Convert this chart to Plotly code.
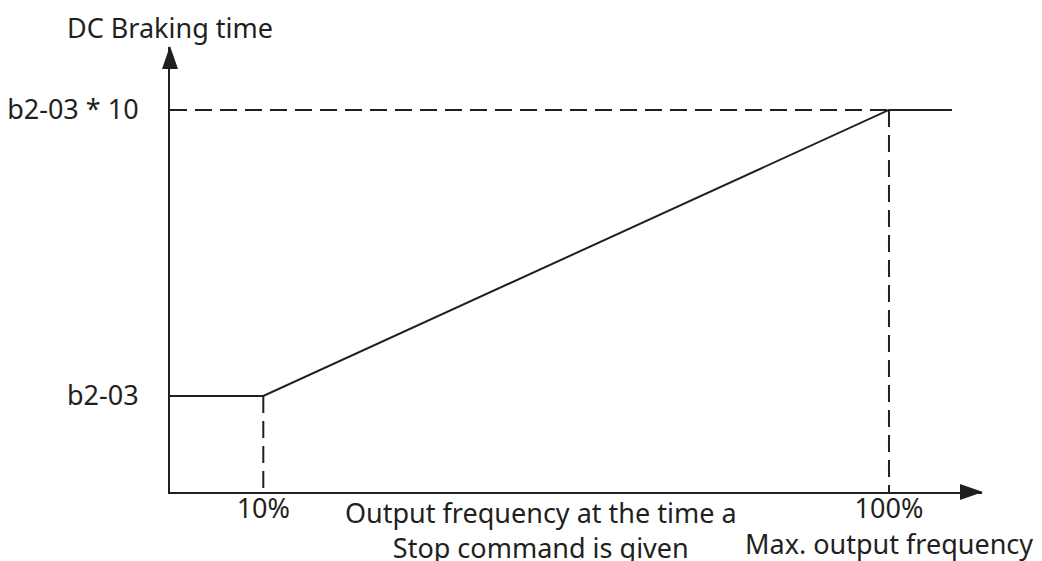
import plotly.graph_objects as go

# Data (schematic units): output frequency in %, braking time in multiples of b2-03
freq_pts = [10, 100]
time_pts = [1, 10]
x_start = -3.42          # axis origin (schematic)
y_start = -2.02
x_end = 113.38
y_end = 11.98
x_line_end = 109.06

x_tick_vals = [10, 100]
x_tick_text = ["10%", "100%"]
y_tick_vals = [1, 10]
y_tick_text = ["b2-03", "b2-03 * 10"]

INK = "#231f20"
FONT = "Noto Sans"
FS = 27

fig = go.Figure()

dash = "17px,8px"
# Dashed guide lines
fig.add_trace(go.Scatter(x=[x_start, freq_pts[1]], y=[time_pts[1], time_pts[1]], mode="lines",
                         line=dict(color=INK, width=2, dash=dash), hoverinfo="skip"))
fig.add_trace(go.Scatter(x=[freq_pts[0], freq_pts[0]], y=[time_pts[0], y_start], mode="lines",
                         line=dict(color=INK, width=2, dash=dash), hoverinfo="skip"))
fig.add_trace(go.Scatter(x=[freq_pts[1], freq_pts[1]], y=[time_pts[1], y_start], mode="lines",
                         line=dict(color=INK, width=2, dash=dash), hoverinfo="skip"))

# Main curve
fig.add_trace(go.Scatter(x=[x_start] + freq_pts + [x_line_end],
                         y=[time_pts[0]] + time_pts + [time_pts[1]],
                         mode="lines", line=dict(color=INK, width=2), hoverinfo="skip"))

# Arrow heads (paper refs so they are not clipped)
fig.add_shape(type="path", xref="paper", yref="paper", xsizemode="pixel", ysizemode="pixel",
              xanchor=1, yanchor=0, path="M1,0 L-22,8 L-22,-8 Z",
              fillcolor=INK, line=dict(width=0))
fig.add_shape(type="path", xref="paper", yref="paper", xsizemode="pixel", ysizemode="pixel",
              xanchor=0, yanchor=1, path="M0,1 L-8,-22 L8,-22 Z",
              fillcolor=INK, line=dict(width=0))

font = dict(family=FONT, size=FS, color=INK)
fig.add_annotation(x=x_start, y=1, xref="x", yref="paper", text="DC Braking time",
                   showarrow=False, xanchor="center", yanchor="middle", yshift=20, font=font)
fig.add_annotation(x=50, y=0, xref="x", yref="paper",
                   text="Output frequency at the time a<br>Stop command is given",
                   showarrow=False, xanchor="center", yanchor="middle", yshift=-38, font=font)
fig.add_annotation(x=100, y=0, xref="x", yref="paper", text="Max. output frequency",
                   showarrow=False, xanchor="center", yanchor="middle", yshift=-51, font=font)

fig.update_xaxes(range=[x_start, x_end], showgrid=False, zeroline=False, showline=True,
                 linecolor=INK, linewidth=2, tickvals=x_tick_vals, ticktext=x_tick_text,
                 ticks="", tickfont=font, ticklabelstandoff=-8)
fig.update_yaxes(range=[y_start, y_end], showgrid=False, zeroline=False, showline=True,
                 linecolor=INK, linewidth=2, tickvals=y_tick_vals, ticktext=y_tick_text,
                 ticks="", tickfont=font, ticklabelstandoff=24)

# Page body has an 8px margin, so the figure is offset by 8px
fig.update_layout(width=1034, height=553, showlegend=False,
                  margin=dict(l=162, r=60, t=39, b=69, autoexpand=False),
                  plot_bgcolor="white", paper_bgcolor="white")

fig.write_html("out.html")
